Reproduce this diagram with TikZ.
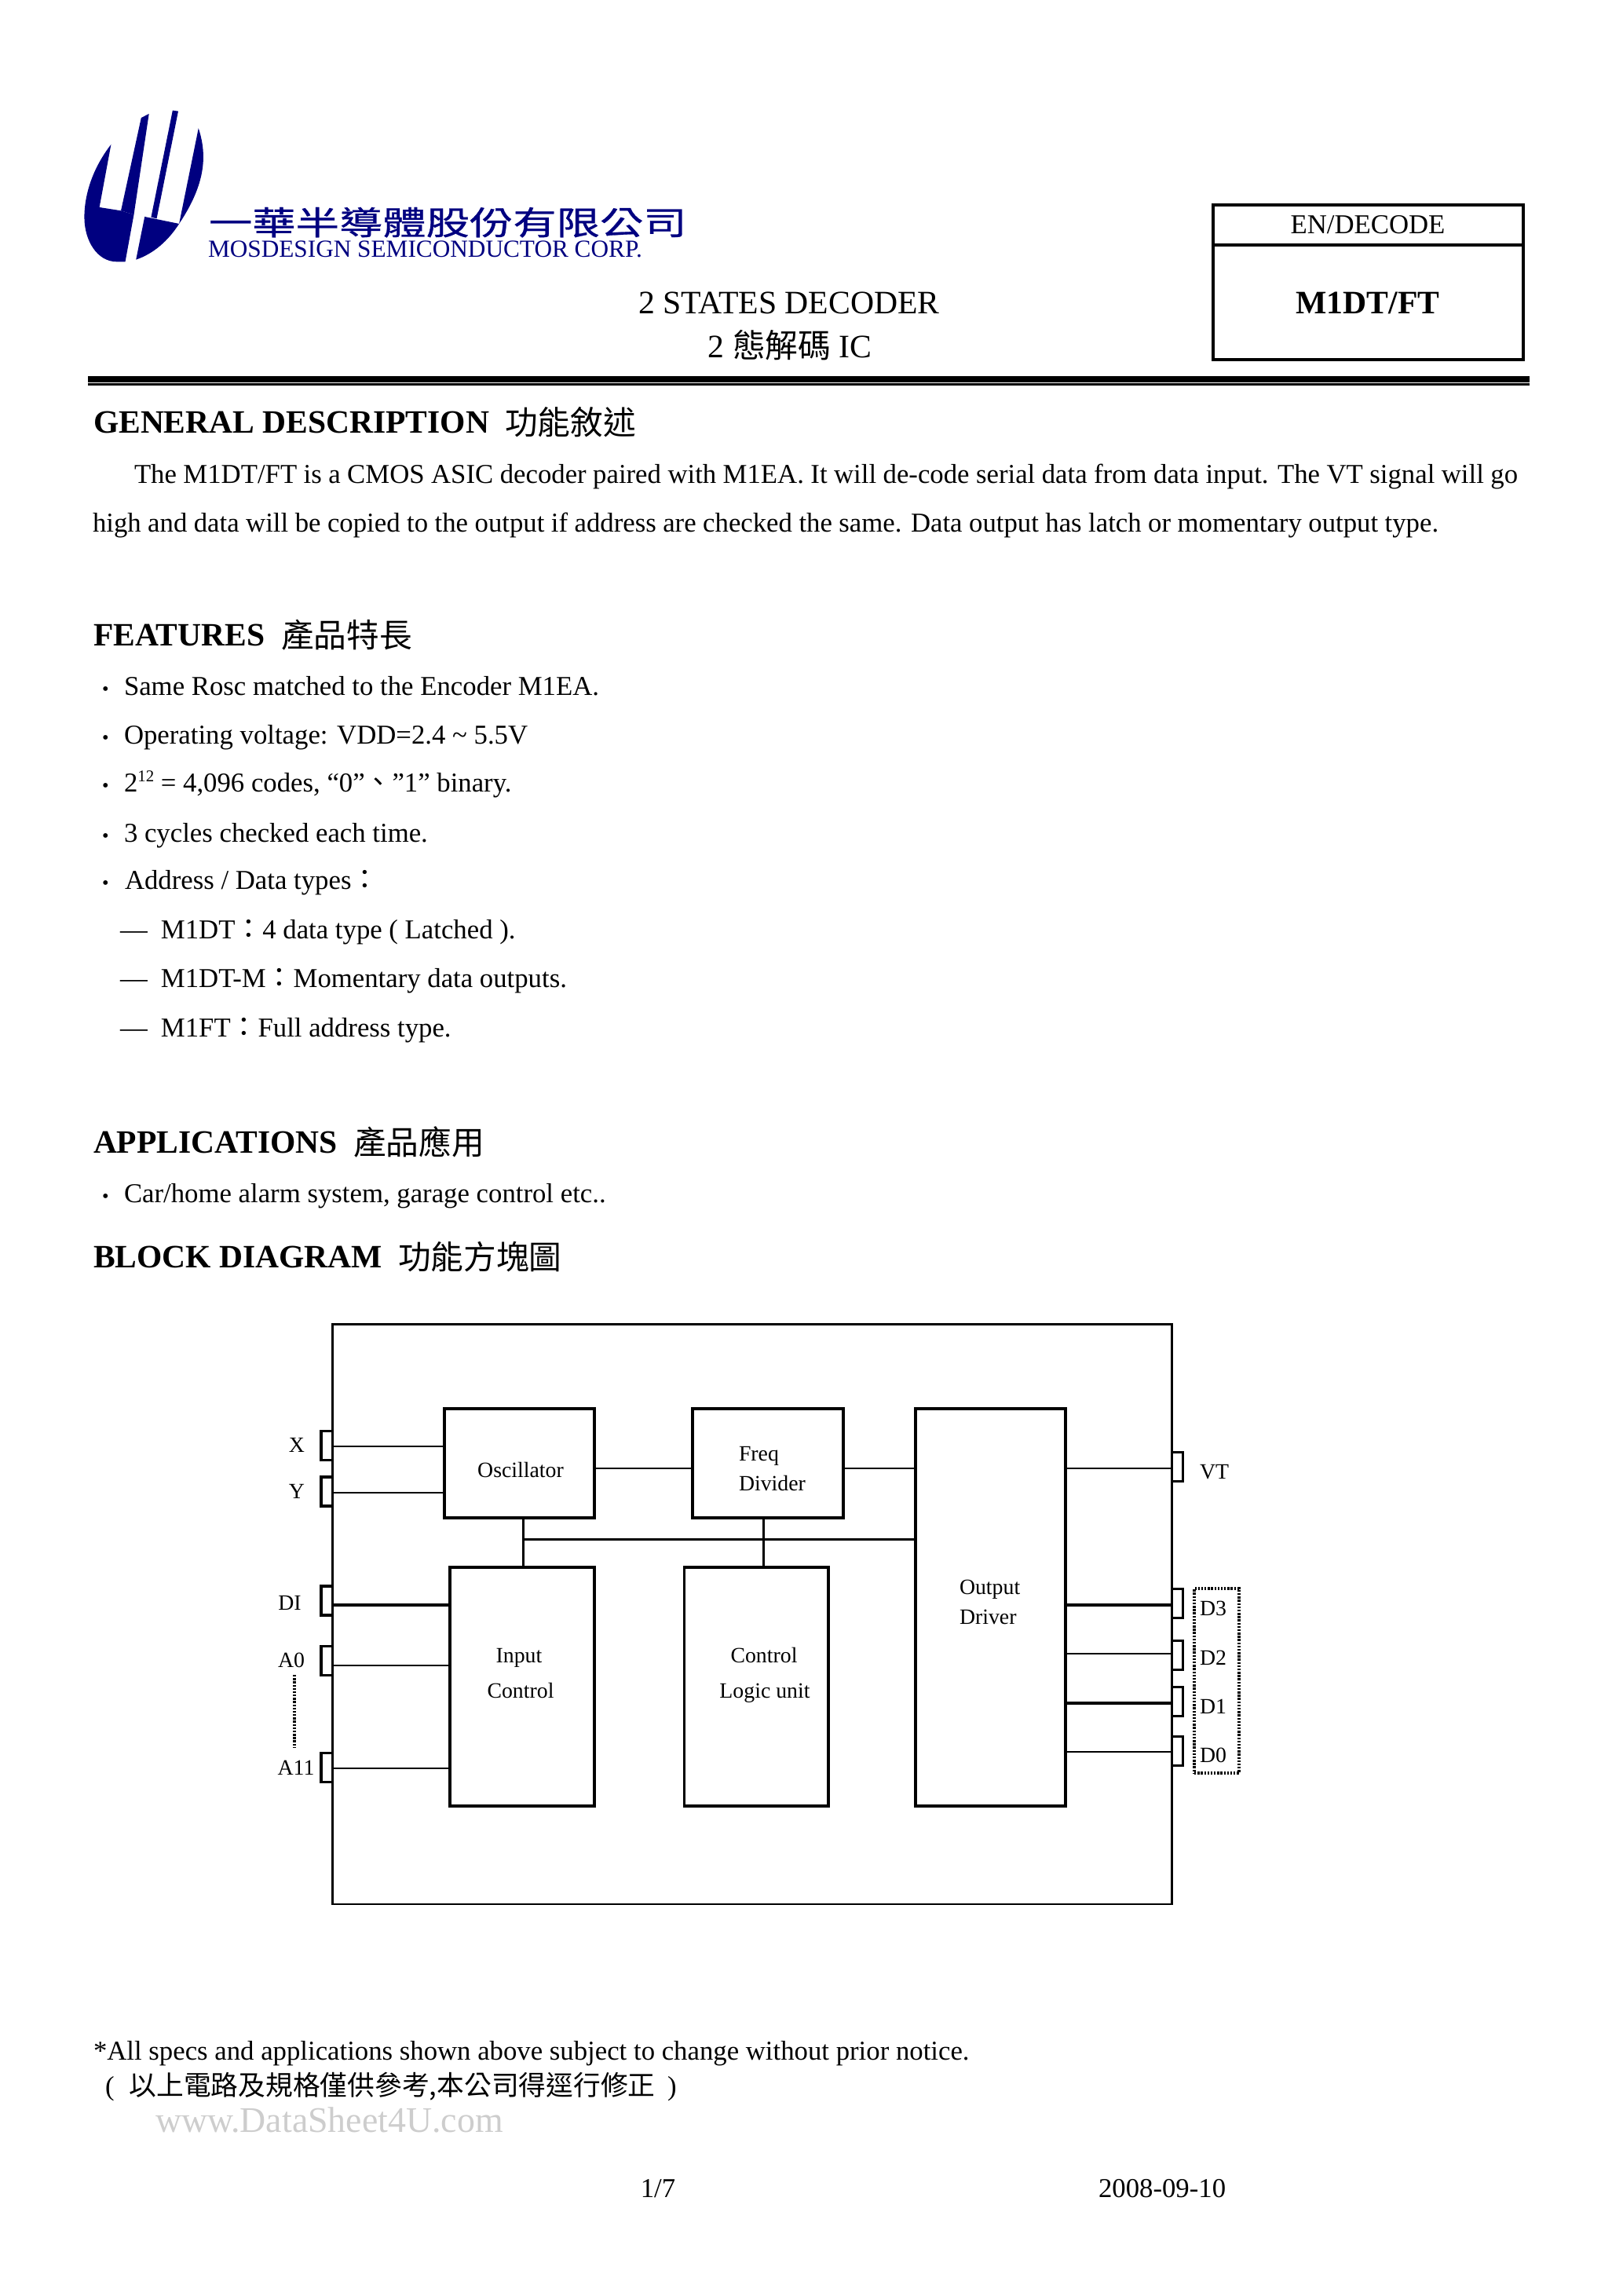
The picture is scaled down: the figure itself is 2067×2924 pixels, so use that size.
\documentclass[tikz,border=0pt]{standalone}
\usepackage{fontspec}
\usepackage{graphicx}
\setmainfont{Liberation Serif}
\newfontfamily\cjk{Noto Sans CJK TC}
\newfontfamily\cjklogo[FakeBold=0.6]{Noto Sans CJK TC}
\newcommand{\cj}[1]{{\cjk #1}}
\newcommand{\bul}[1]{\llap{\makebox[#1\dimexpr 0.2878pt\relax][l]{\scalebox{0.7}{\textbullet}}}}
\definecolor{logoblue}{RGB}{0,0,128}
\definecolor{wm}{RGB}{205,205,205}
\tikzset{
  txt/.style={inner sep=0pt,outer sep=0pt,anchor=base west,font=\fontsize{10}{12}\selectfont},
  ctxt/.style={inner sep=0pt,outer sep=0pt,anchor=base,font=\fontsize{10}{12}\selectfont},
  head/.style={txt,font=\fontsize{11.95}{13}\selectfont\bfseries},
  headc/.style={txt,font=\fontsize{12}{13}\selectfont\cjk},
  dia/.style={ctxt,font=\fontsize{8}{10}\selectfont},
  dial/.style={txt,font=\fontsize{8}{10}\selectfont},
  blk/.style 2 args={draw,line width=0.95pt,inner sep=0pt,outer sep=0pt,minimum width=#1*0.2878pt,minimum height=#2*0.2878pt},
  pin/.style={draw,line width=0.95pt,inner sep=0pt,outer sep=0pt,minimum width=14.5*0.2878pt,minimum height=37*0.2878pt},
  wire/.style={line width=0.72pt},
  wirethick/.style={line width=1pt},
  dots/.style={line width=0.9pt,dash pattern=on 0.7pt off 0.5pt},
}
\begin{document}
\begin{tikzpicture}[x=0.2878pt,y=-0.2878pt]
\useasboundingbox (0,0) rectangle (2067,2924);
% logo
\begin{scope}[shift={(80,120)},xscale=0.5485,yscale=0.3333]
\fill[logoblue] (112,192) .. controls (75,270) and (50,370) .. (50,470) .. controls (50,560) and (80,640) .. (125,640) -- (145,640) -- (165,460) -- (135,445) -- (85,432) -- cycle;
\fill[logoblue] (182,90) -- (200,75) -- (165,460) -- (135,445) -- cycle;
\fill[logoblue] (255,62) -- (268,65) -- (218,475) -- (205,470) -- cycle;
\fill[logoblue] (190,468) -- (270,495) .. controls (245,560) and (210,610) .. (170,632) -- cycle;
\fill[logoblue] (315,130) .. controls (335,230) and (333,340) .. (270,495) -- cycle;
\end{scope}
\node[txt,text=logoblue,font=\fontsize{12}{14}\selectfont\cjklogo] (logocn) at (266,299) {\scalebox{1.327}[1]{一華半導體股份有限公司}};
\node[txt,text=logoblue,font=\fontsize{9}{11}\selectfont] (logoen) at (265,328) {MOSDESIGN SEMICONDUCTOR CORP.};
% header box
\node[blk={395}{197},anchor=north west] (hdr) at (1545,261) {};
\coordinate (hl) at (1545,312);
\draw[line width=0.95pt] (hl) -- (hl -| hdr.east);
\node[ctxt] (endec) at (1742,298) {EN/DECODE};
\node[ctxt,font=\fontsize{12}{14}\selectfont\bfseries] (part) at (1742,400) {M1DT/FT};
\node[ctxt,font=\fontsize{12}{14}\selectfont] (title) at (1005,400) {2 STATES DECODER};
\node[ctxt,font=\fontsize{12}{14}\selectfont] (titlecn) at (1006,456) {2 \cj{態解碼} IC};
% rule
\coordinate (r1) at (112,483); \coordinate (r2) at (1948,483);
\coordinate (r3) at (112,489.5); \coordinate (r4) at (1948,489.5);
\draw[line width=2.3pt] (r1) -- (r2);
\draw[line width=0.7pt] (r3) -- (r4);
% general description
\node[head] (h1) at (119,551) {GENERAL DESCRIPTION};
\node[headc] (h1c) at (643,553) {功能敘述};
\node[txt] (p1) at (171,615) {\makebox[1762\dimexpr 0.2878pt\relax][s]{The M1DT/FT is a CMOS ASIC decoder paired with M1EA. It will de-code serial data from data input. The VT signal will go}};
\node[txt] (p2) at (118,677) {\makebox[1714\dimexpr 0.2878pt\relax][s]{high and data will be copied to the output if address are checked the same. Data output has latch or momentary output type.}};
% features
\node[head] (h2) at (119,822) {FEATURES};
\node[headc] (h2c) at (358,824) {產品特長};
\node[txt] (f1) at (158,885) {\bul{28}Same Rosc matched to the Encoder M1EA.};
\node[txt] (f2) at (158,947) {\bul{28}Operating voltage: VDD=2.4 \textasciitilde{} 5.5V};
\node[txt] (f3) at (158,1008) {\bul{28}2\raisebox{3.6pt}{\fontsize{6}{7}\selectfont 12} = 4,096 codes, “0”\cj{、}”1” binary.};
\node[txt] (f4) at (158,1072) {\bul{28}3 cycles checked each time.};
\node[txt] (f5) at (159,1132) {\bul{29}Address / Data types\cj{：}};
\node[txt] (f6) at (153,1195) {\makebox[52\dimexpr 0.2878pt\relax][l]{—}M1DT\cj{：}4 data type ( Latched ).};
\node[txt] (f7) at (153,1257) {\makebox[52\dimexpr 0.2878pt\relax][l]{—}M1DT-M\cj{：}Momentary data outputs.};
\node[txt] (f8) at (153,1320) {\makebox[52\dimexpr 0.2878pt\relax][l]{—}M1FT\cj{：}Full address type.};
% applications
\node[head] (h3) at (119,1468) {APPLICATIONS};
\node[headc] (h3c) at (450,1470) {產品應用};
\node[txt] (a1) at (158,1531) {\bul{28}Car/home alarm system, garage control etc..};
% block diagram
\node[head] (h4) at (119,1614) {BLOCK DIAGRAM};
\node[headc] (h4c) at (507,1616) {功能方塊圖};
% outer
\node[blk={1069}{738.5},anchor=north west,line width=0.8pt] (outer) at (423.6,1686.5) {};
% blocks
\node[blk={191}{139},anchor=north west] (osc) at (566,1794) {};
\node[blk={192}{139},anchor=north west] (frq) at (882,1794) {};
\node[blk={184}{304},anchor=north west] (inp) at (573,1996) {};
\node[blk={183.5}{304},anchor=north west] (ctl) at (871.5,1996) {};
\node[blk={191}{506},anchor=north west] (drv) at (1166,1794) {};
% block labels
\node[dia] (tosc) at (663,1881) {Oscillator};
\node[dial] (tfrq1) at (941,1860) {Freq};
\node[dial] (tfrq2) at (941,1898) {Divider};
\node[dia] (tinp1) at (661,2117) {Input};
\node[dia] (tinp2) at (663,2162) {Control};
\node[dia] (tctl1) at (973,2117) {Control};
\node[dia] (tctl2) at (974,2162) {Logic unit};
\node[dial] (tdrv1) at (1222,2030) {Output};
\node[dial] (tdrv2) at (1222,2068) {Driver};
% left pins
\node[pin] (pX) at (416.3,1841) {};
\node[pin] (pY) at (416.3,1899.5) {};
\node[pin] (pDI) at (416.3,2038.5) {};
\node[pin] (pA0) at (416.3,2115) {};
\node[pin] (pA11) at (416.3,2251) {};
\node[dia] (lX) at (378,1849) {X};
\node[dia] (lY) at (378,1908) {Y};
\node[dia] (lDI) at (369,2050) {DI};
\node[dia] (lA0) at (371,2123) {A0};
\node[dia] (lA11) at (377,2260) {A11};
\coordinate (dt1) at (375,2133); \coordinate (dt2) at (375,2225);
\draw[dots] (dt1) -- (dt2);
% right pins
\node[pin] (pVT) at (1499.5,1868) {};
\node[pin] (pD3) at (1499.5,2042) {};
\node[pin] (pD2) at (1499.5,2108) {};
\node[pin] (pD1) at (1499.5,2167) {};
\node[pin] (pD0) at (1499.5,2230) {};
\node[dial] (lVT) at (1528,1883) {VT};
\node[dial] (lD3) at (1528,2057) {D3};
\node[dial] (lD2) at (1528,2120) {D2};
\node[dial] (lD1) at (1528,2182) {D1};
\node[dial] (lD0) at (1528,2244) {D0};
\node[draw,dots,inner sep=0pt,outer sep=0pt,minimum width=57*0.2878pt,minimum height=235*0.2878pt,anchor=north west] (dbox) at (1521,2023) {};
% wires left
\coordinate (wX) at (423.6,1842); \coordinate (wY) at (423.6,1901);
\coordinate (wDI) at (423.6,2044); \coordinate (wA0) at (423.6,2121); \coordinate (wA11) at (423.6,2252);
\draw[wire] (wX) -- (wX -| osc.west);
\draw[wire] (wY) -- (wY -| osc.west);
\draw[wirethick] (wDI) -- (wDI -| inp.west);
\draw[wire] (wA0) -- (wA0 -| inp.west);
\draw[wire] (wA11) -- (wA11 -| inp.west);
% wires middle
\coordinate (wOF) at (757,1870);
\draw[wire] (wOF) -- (wOF -| frq.west);
\coordinate (wFD) at (1074,1870);
\draw[wire] (wFD) -- (wFD -| drv.west);
\coordinate (bus) at (666.4,1960.5);
\coordinate (busf) at (972.6,1960.5);
\draw[wire] (bus) -- (bus -| drv.west);
\draw[wire] (bus |- osc.south) -- (bus |- inp.north);
\draw[wire] (busf |- frq.south) -- (busf |- ctl.north);
% wires right
\coordinate (wVT) at (1357,1870); \coordinate (wD3) at (1357,2044); \coordinate (wD2) at (1357,2106);
\coordinate (wD1) at (1357,2169); \coordinate (wD0) at (1357,2231);
\draw[wire] (wVT) -- (wVT -| outer.east);
\draw[wirethick] (wD3) -- (wD3 -| outer.east);
\draw[wire] (wD2) -- (wD2 -| outer.east);
\draw[wirethick] (wD1) -- (wD1 -| outer.east);
\draw[wire] (wD0) -- (wD0 -| outer.east);
% footer
\node[txt] (n1) at (119,2623) {*All specs and applications shown above subject to change without prior notice.};
\node[txt] (n2) at (134,2668) {( \hspace{3pt}\cj{以上電路及規格僅供參考,本公司得逕行修正} \hspace{2pt})};
\node[txt,text=wm,font=\fontsize{13.2}{15}\selectfont] (wm) at (198,2715) {www.DataSheet4U.com};
\node[ctxt] (pg) at (838,2798) {1/7};
\node[txt] (dt) at (1399,2798) {2008-09-10};
\end{tikzpicture}
\end{document}
